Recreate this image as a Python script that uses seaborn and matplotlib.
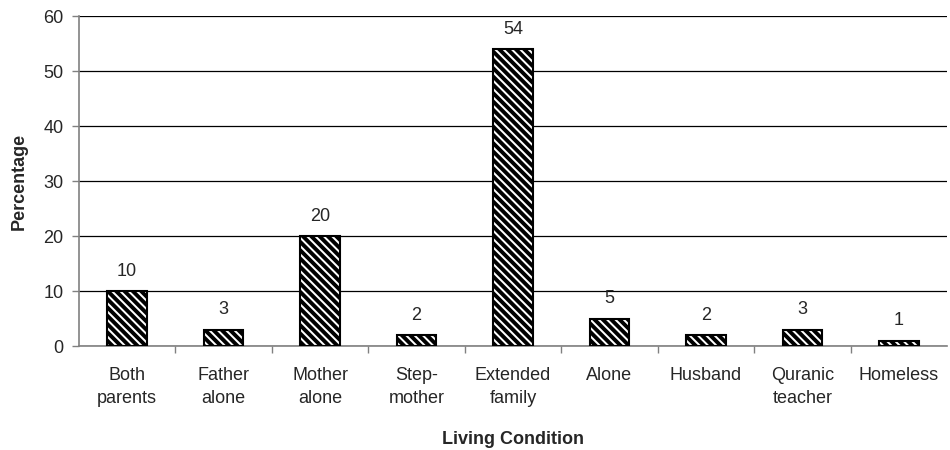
import matplotlib
matplotlib.use('Agg')
import numpy as np
import pandas as pd
import matplotlib.pyplot as plt
import seaborn as sns

# Data
conditions = ['Both\nparents', 'Father\nalone', 'Mother\nalone', 'Step-\nmother',
              'Extended\nfamily', 'Alone', 'Husband', 'Quranic\nteacher', 'Homeless']
percentages = [10, 3, 20, 2, 54, 5, 2, 3, 1]
y_ticks = [0, 10, 20, 30, 40, 50, 60]

df = pd.DataFrame({'condition': conditions, 'percentage': percentages})

sns.set_style('white')
plt.rcParams['font.family'] = ['Liberation Sans', 'DejaVu Sans']
plt.rcParams['hatch.linewidth'] = 2.8
plt.rcParams['hatch.color'] = 'black'

fig = plt.figure(figsize=(9.5, 4.5), dpi=100)
ax = fig.add_axes([0.083, 0.231, 0.914, 0.733])

sns.barplot(data=df, x='condition', y='percentage', color='white',
            edgecolor='black', linewidth=1.5, width=0.41, ax=ax, zorder=3)
for p in ax.patches:
    p.set_hatch('\\\\\\\\')

ax.bar_label(ax.containers[0], padding=8, fontsize=13)

ax.set_xlim(-0.5, len(conditions) - 0.5)
ax.set_ylim(0, 60)
ax.set_yticks(y_ticks)
ax.yaxis.grid(True, color='black', linewidth=0.9)
ax.set_axisbelow(True)

ax.set_xticks(np.arange(len(conditions)))
ax.set_xticklabels(conditions, fontsize=13, linespacing=1.5)
ax.set_xticks(np.arange(0.5, len(conditions) - 0.5, 1.0), minor=True)
ax.tick_params(axis='x', which='major', length=0, pad=15)
ax.tick_params(axis='x', which='minor', length=5, width=1, color='gray',
               direction='out', bottom=True)
ax.tick_params(axis='y', length=5, width=1, color='gray', direction='out',
               left=True, labelsize=13, pad=6)

for s in ['top', 'right']:
    ax.spines[s].set_visible(False)
for s in ['left', 'bottom']:
    ax.spines[s].set_color('gray')
    ax.spines[s].set_linewidth(1.2)

ax.set_xlabel('Living Condition', fontsize=13, fontweight='bold', labelpad=17)
ax.set_ylabel('Percentage', fontsize=13, fontweight='bold', labelpad=11)

plt.savefig('out.png', dpi=100)
